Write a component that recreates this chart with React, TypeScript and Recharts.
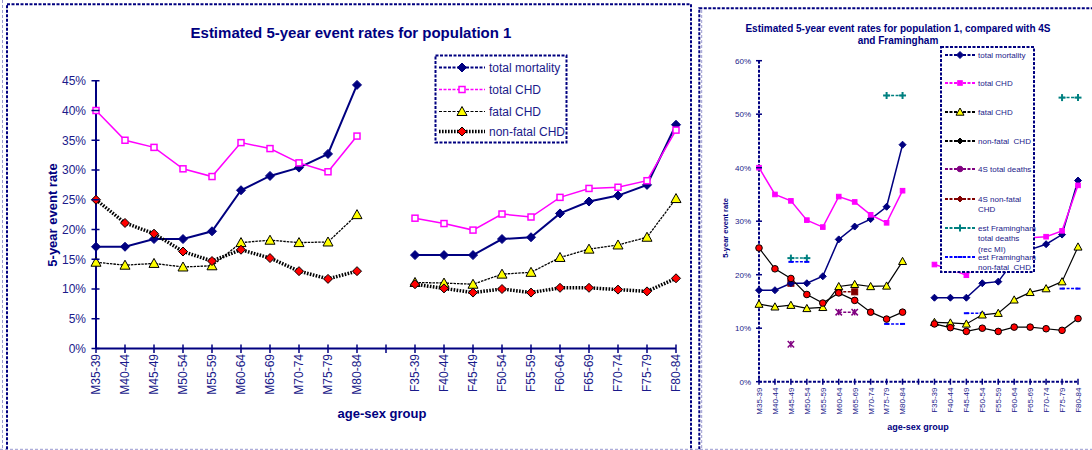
import React from 'react';
import { LineChart, Line, XAxis, YAxis } from 'recharts';

const FONT = '"Liberation Sans", Arial, Helvetica, sans-serif';
const NAVY = '#000080';
const TXT = '#1a1a8a';

// ---------------- data ----------------
const categories = [
  'M35-39', 'M40-44', 'M45-49', 'M50-54', 'M55-59', 'M60-64', 'M65-69', 'M70-74', 'M75-79', 'M80-84',
  '',
  'F35-39', 'F40-44', 'F45-49', 'F50-54', 'F55-59', 'F60-64', 'F65-69', 'F70-74', 'F75-79', 'F80-84',
];
const totalMortality = [17.1, 17.1, 18.4, 18.4, 19.7, 26.6, 29.0, 30.4, 32.7, 44.3, null, 15.7, 15.7, 15.7, 18.4, 18.7, 22.7, 24.7, 25.7, 27.5, 37.6];
const totalCHD = [40.0, 35.0, 33.8, 30.2, 28.9, 34.6, 33.6, 31.2, 29.7, 35.7, null, 21.9, 21.0, 19.9, 22.6, 22.1, 25.4, 26.9, 27.1, 28.2, 36.7];
const fatalCHD = [14.5, 14.0, 14.3, 13.7, 13.9, 17.8, 18.2, 17.8, 17.9, 22.5, null, 11.1, 11.0, 10.8, 12.5, 12.8, 15.3, 16.7, 17.4, 18.7, 25.2];
const nonFatalCHD = [25.0, 21.1, 19.3, 16.3, 14.7, 16.6, 15.2, 13.0, 11.7, 13.0, null, 10.8, 10.1, 9.4, 10.0, 9.4, 10.2, 10.2, 9.9, 9.6, 11.8];
const fourSTotalDeaths = [null, null, 7.0, null, null, 13.0, 13.0, null, null, null, null, null, null, null, null, null, null, null, null, null, null];
const fourSNonFatal = [null, null, 18.4, null, null, 16.8, 16.8, null, null, null, null, null, null, null, null, null, null, null, null, null, null];
const framTotalDeaths = [null, null, 23.1, 23.1, null, null, null, null, 53.5, 53.5, null, null, null, null, null, null, null, null, null, 53.1, 53.1];
const framNonFatal = [null, null, 22.4, 22.4, null, null, null, null, 10.8, 10.8, null, null, null, 12.8, 12.8, null, null, null, null, 17.4, 17.4];

const leftTicks = [0, 5, 10, 15, 20, 25, 30, 35, 40, 45];
const rightTicks = [0, 10, 20, 30, 40, 50, 60];

const rows = categories.map((cat, i) => ({
  cat,
  tm: totalMortality[i],
  tc: totalCHD[i],
  fc: fatalCHD[i],
  nf: nonFatalCHD[i],
  s4d: fourSTotalDeaths[i],
  s4n: fourSNonFatal[i],
  fmt: framTotalDeaths[i],
  fmn: framNonFatal[i],
}));

// ---------------- markers ----------------
type MarkerSpec = { shape: string; s: number; fill: string; stroke: string; sw?: number };

function Marker({ shape, x, y, s, fill, stroke, sw = 1 }: MarkerSpec & { x: number; y: number }) {
  switch (shape) {
    case 'diamond':
      return <polygon points={`${x},${y - s} ${x + s},${y} ${x},${y + s} ${x - s},${y}`} fill={fill} stroke={stroke} strokeWidth={sw} />;
    case 'square':
      return <rect x={x - s} y={y - s} width={2 * s} height={2 * s} fill={fill} stroke={stroke} strokeWidth={sw} />;
    case 'triangle':
      return <polygon points={`${x},${y - s} ${x + s},${y + s * 0.8} ${x - s},${y + s * 0.8}`} fill={fill} stroke={stroke} strokeWidth={sw} />;
    case 'circle':
      return <circle cx={x} cy={y} r={s} fill={fill} stroke={stroke} strokeWidth={sw} />;
    case 'star':
      return (
        <g stroke={stroke} strokeWidth={sw}>
          <line x1={x - s} y1={y - s} x2={x + s} y2={y + s} />
          <line x1={x - s} y1={y + s} x2={x + s} y2={y - s} />
          <line x1={x} y1={y - s} x2={x} y2={y + s} />
        </g>
      );
    case 'plus':
      return (
        <g stroke={stroke} strokeWidth={sw}>
          <line x1={x - s} y1={y} x2={x + s} y2={y} />
          <line x1={x} y1={y - s} x2={x} y2={y + s} />
        </g>
      );
    case 'dash':
      return <line x1={x - s} y1={y} x2={x + s} y2={y} stroke={stroke} strokeWidth={sw} />;
    default:
      return null;
  }
}

const dotRenderer = (m: MarkerSpec) => (props: any) => {
  const { cx, cy, index, value } = props;
  const key = `dot-${index}`;
  if (cx == null || cy == null || value == null || Number.isNaN(cx) || Number.isNaN(cy)) return <g key={key} />;
  return (
    <g key={key}>
      <Marker {...m} x={cx} y={cy} />
    </g>
  );
};

// ---------------- marker styles ----------------
const L = {
  tm: { shape: 'diamond', s: 4.5, fill: NAVY, stroke: NAVY, sw: 1 },
  tc: { shape: 'square', s: 3, fill: '#ffffff', stroke: '#FF00FF', sw: 1.5 },
  fc: { shape: 'triangle', s: 5, fill: '#FFFF00', stroke: '#000000', sw: 1 },
  nf: { shape: 'diamond', s: 4.5, fill: '#FF0000', stroke: '#000000', sw: 1 },
};
const R = {
  tm: { shape: 'diamond', s: 3.5, fill: NAVY, stroke: NAVY, sw: 1 },
  tc: { shape: 'square', s: 2.3, fill: '#FF00FF', stroke: '#FF00FF', sw: 1 },
  fc: { shape: 'triangle', s: 4, fill: '#FFFF00', stroke: '#000000', sw: 1 },
  nf: { shape: 'circle', s: 3.3, fill: '#FF0000', stroke: '#000000', sw: 1 },
  s4d: { shape: 'star', s: 3.2, fill: 'none', stroke: '#800080', sw: 1.5 },
  s4n: { shape: 'square', s: 3, fill: '#800000', stroke: '#800000', sw: 1 },
  fmt: { shape: 'plus', s: 3.5, fill: 'none', stroke: '#008080', sw: 2 },
  fmn: { shape: 'dash', s: 2.5, fill: 'none', stroke: '#0000FF', sw: 2 },
};

// ---------------- ticks ----------------
const L_AXIS_X = 96;
const L_AXIS_Y = 348.5;
const R_AXIS_X = 59;
const R_AXIS_Y = 381.7;

const makeXTick = (axisY: number, up: number, down: number, labelTop: number, fontSize: number) => (props: any) => {
  const { x, payload, index } = props;
  return (
    <g key={`xt-${index}`}>
      <line x1={x} x2={x} y1={axisY - up} y2={axisY + down} stroke={NAVY} strokeWidth={1.5} />
      {payload.value ? (
        <text
          transform={`translate(${x},${labelTop}) rotate(-90)`}
          textAnchor="end"
          dy="0.36em"
          fontSize={fontSize}
          fontFamily={FONT}
          fill={TXT}
        >
          {payload.value}
        </text>
      ) : null}
    </g>
  );
};

const makeYTick = (axisX: number, left: number, right: number, gap: number, fontSize: number) => (props: any) => {
  const { y, payload, index } = props;
  return (
    <g key={`yt-${index}`}>
      <line x1={axisX - left} x2={axisX + right} y1={y} y2={y} stroke={NAVY} strokeWidth={1.5} />
      <text x={axisX - gap} y={y} dy="0.36em" textAnchor="end" fontSize={fontSize} fontFamily={FONT} fill={TXT}>
        {`${payload.value}%`}
      </text>
    </g>
  );
};

// ---------------- legends ----------------
type LegendItem = { label: string[]; color: string; width: number; dash: string; marker: MarkerSpec };

const leftLegend: LegendItem[] = [
  { label: ['total mortality'], color: NAVY, width: 2, dash: '3 1.5', marker: L.tm },
  { label: ['total CHD'], color: '#FF00FF', width: 1.5, dash: '3 1.5', marker: L.tc },
  { label: ['fatal CHD'], color: '#000000', width: 1.2, dash: '3 1.5', marker: L.fc },
  { label: ['non-fatal CHD'], color: '#000000', width: 3.5, dash: '1.6 1.4', marker: L.nf },
];
const leftLegendY = [67.5, 89.5, 111.5, 131.5];

const rightLegend: LegendItem[] = [
  { label: ['total mortality'], color: NAVY, width: 1.8, dash: '3 1.5', marker: R.tm },
  { label: ['total CHD'], color: '#FF00FF', width: 1.8, dash: '3 1.5', marker: R.tc },
  { label: ['fatal CHD'], color: '#000000', width: 1.8, dash: '3 1.5', marker: R.fc },
  { label: ['non-fatal  CHD'], color: '#000000', width: 1.8, dash: '3 1.5', marker: { shape: 'diamond', s: 3, fill: '#000000', stroke: '#000000' } },
  { label: ['4S total deaths'], color: '#800080', width: 1.8, dash: '3 1.5', marker: { shape: 'circle', s: 2.8, fill: '#800080', stroke: '#800080' } },
  { label: ['4S non-fatal', 'CHD'], color: '#800000', width: 1.8, dash: '3 1.5', marker: { shape: 'diamond', s: 3, fill: '#800000', stroke: '#800000' } },
  { label: ['est Framingham', 'total deaths', '(rec MI)'], color: '#008080', width: 1.8, dash: '3 1.5', marker: R.fmt },
  { label: ['est Framingham', 'non-fatal  CHD'], color: '#0000FF', width: 1.8, dash: '3 1.5', marker: R.fmn },
];
const rightLegendY = [55, 83, 112, 141, 169, 199, 228, 257];

function Overlay() {
  return (
    <svg width={1092} height={450} style={{ position: 'absolute', left: 0, top: 0, pointerEvents: 'none' }}>
      {/* light outer dashed lines */}
      <line x1={0} x2={1092} y1={449.3} y2={449.3} stroke="#9a9ad0" strokeWidth={1} strokeDasharray="3 2" />
      <line x1={2.5} x2={2.5} y1={0} y2={450} stroke="#9a9ad0" strokeWidth={1} strokeDasharray="3 2" />
      <line x1={701.7} x2={701.7} y1={10} y2={450} stroke="#9a9ad0" strokeWidth={1} strokeDasharray="3 2" />
      {/* navy frames */}
      <rect x={7} y={4.3} width={684} height={470} fill="none" stroke={NAVY} strokeWidth={2} strokeDasharray="3 1.5" />
      <rect x={699.3} y={8.3} width={430} height={470} fill="none" stroke={NAVY} strokeWidth={2} strokeDasharray="3 1.5" />

      {/* left titles */}
      <text x={351} y={33} dy="0.36em" textAnchor="middle" fontFamily={FONT} fontWeight="bold" fontSize={15} fill={NAVY}>
        Estimated 5-year event rates for population 1
      </text>
      <text transform="translate(52,215) rotate(-90)" dy="0.36em" textAnchor="middle" fontFamily={FONT} fontWeight="bold" fontSize={13} fill={NAVY}>
        5-year event rate
      </text>
      <text x={382} y={413} dy="0.36em" textAnchor="middle" fontFamily={FONT} fontWeight="bold" fontSize={13} fill={NAVY}>
        age-sex group
      </text>

      {/* left legend */}
      <rect x={435.5} y={55.5} width={131} height={87} fill="#ffffff" stroke={NAVY} strokeWidth={2} strokeDasharray="3 1.5" />
      {leftLegend.map((it, i) => {
        const y = leftLegendY[i];
        return (
          <g key={`ll-${i}`}>
            <line x1={439} x2={485} y1={y} y2={y} stroke={it.color} strokeWidth={it.width} strokeDasharray={it.dash} />
            <Marker {...it.marker} x={462} y={y} />
            <text x={489} y={y} dy="0.36em" fontFamily={FONT} fontSize={12} fill={TXT}>
              {it.label[0]}
            </text>
          </g>
        );
      })}

      {/* right titles */}
      <text x={898} y={28.3} dy="0.36em" textAnchor="middle" fontFamily={FONT} fontWeight="bold" fontSize={10} fill={NAVY}>
        Estimated 5-year event rates for population 1, compared with 4S
      </text>
      <text x={898} y={40.7} dy="0.36em" textAnchor="middle" fontFamily={FONT} fontWeight="bold" fontSize={10} fill={NAVY}>
        and Framingham
      </text>
      <text transform="translate(725,228) rotate(-90)" dy="0.36em" textAnchor="middle" fontFamily={FONT} fontWeight="bold" fontSize={7.5} fill={NAVY}>
        5-year event rate
      </text>
      <text x={918} y={427} dy="0.36em" textAnchor="middle" fontFamily={FONT} fontWeight="bold" fontSize={9} fill={NAVY}>
        age-sex group
      </text>

      {/* right legend */}
      <rect x={941} y={47} width={93} height={225} fill="#ffffff" stroke={NAVY} strokeWidth={2} strokeDasharray="3 1.5" />
      {rightLegend.map((it, i) => {
        const y = rightLegendY[i];
        return (
          <g key={`rl-${i}`}>
            <line x1={945} x2={976} y1={y} y2={y} stroke={it.color} strokeWidth={it.width} strokeDasharray={it.dash} />
            <Marker {...it.marker} x={960} y={y} />
            {it.label.map((ln, j) => (
              <text
                key={j}
                x={978}
                y={y + j * 10.5}
                dy="0.36em"
                fontFamily={FONT}
                fontSize={8}
                fill={TXT}
                style={{ whiteSpace: 'pre' }}
              >
                {ln}
              </text>
            ))}
          </g>
        );
      })}
    </svg>
  );
}

export default function App() {
  return (
    <div style={{ position: 'relative', width: 1092, height: 450, overflow: 'hidden', background: '#ffffff' }}>
      <style>{'body{margin:0;}'}</style>

      {/* left chart */}
      <div style={{ position: 'absolute', left: 0, top: 0 }}>
        <LineChart width={700} height={450} data={rows} margin={{ top: 80.75, right: 24, bottom: 41.5, left: 36 }}>
          <XAxis
            dataKey="cat"
            type="category"
            scale="point"
            interval={0}
            height={60}
            padding={{ left: 0, right: 0 }}
            axisLine={{ stroke: NAVY, strokeWidth: 2 }}
            tickLine={false}
            tick={makeXTick(L_AXIS_Y, 4, 4.5, 354, 12)}
          />
          <YAxis
            type="number"
            domain={[0, 45]}
            ticks={leftTicks}
            interval={0}
            width={60}
            axisLine={{ stroke: NAVY, strokeWidth: 2 }}
            tickLine={false}
            tick={makeYTick(L_AXIS_X, 4.5, 3.5, 10, 12)}
          />
          <Line dataKey="tm" stroke={NAVY} strokeWidth={2} isAnimationActive={false} dot={dotRenderer(L.tm)} activeDot={false} />
          <Line dataKey="tc" stroke="#FF00FF" strokeWidth={1.5} isAnimationActive={false} dot={dotRenderer(L.tc)} activeDot={false} />
          <Line dataKey="fc" stroke="#000000" strokeWidth={1.3} strokeDasharray="2.5 1" isAnimationActive={false} dot={dotRenderer(L.fc)} activeDot={false} />
          <Line dataKey="nf" stroke="#000000" strokeWidth={3.5} strokeDasharray="1.6 1.4" isAnimationActive={false} dot={dotRenderer(L.nf)} activeDot={false} />
        </LineChart>
      </div>

      {/* right chart */}
      <div style={{ position: 'absolute', left: 700, top: 0 }}>
        <LineChart width={392} height={450} data={rows} margin={{ top: 60.7, right: 14, bottom: 28.3, left: 19 }}>
          <XAxis
            dataKey="cat"
            type="category"
            scale="point"
            interval={0}
            height={40}
            padding={{ left: 0, right: 0 }}
            axisLine={{ stroke: NAVY, strokeWidth: 2, strokeDasharray: '3 1.5' }}
            tickLine={false}
            tick={makeXTick(R_AXIS_Y, 3, 3, 387.5, 8)}
          />
          <YAxis
            type="number"
            domain={[0, 60]}
            ticks={rightTicks}
            interval={0}
            width={40}
            axisLine={{ stroke: NAVY, strokeWidth: 2, strokeDasharray: '3 1.5' }}
            tickLine={false}
            tick={makeYTick(R_AXIS_X, 3, 3, 8, 8)}
          />
          <Line dataKey="fmt" stroke="#008080" strokeWidth={1.5} strokeDasharray="3 1.5" isAnimationActive={false} dot={dotRenderer(R.fmt)} activeDot={false} />
          <Line dataKey="fmn" stroke="#0000FF" strokeWidth={1.5} strokeDasharray="3 1.5" isAnimationActive={false} dot={dotRenderer(R.fmn)} activeDot={false} />
          <Line dataKey="s4d" stroke="#800080" strokeWidth={1.5} strokeDasharray="3 1.5" isAnimationActive={false} dot={dotRenderer(R.s4d)} activeDot={false} />
          <Line dataKey="s4n" stroke="#800000" strokeWidth={1.5} strokeDasharray="3 1.5" isAnimationActive={false} dot={dotRenderer(R.s4n)} activeDot={false} />
          <Line dataKey="tm" stroke={NAVY} strokeWidth={1.5} isAnimationActive={false} dot={dotRenderer(R.tm)} activeDot={false} />
          <Line dataKey="tc" stroke="#FF00FF" strokeWidth={1.5} isAnimationActive={false} dot={dotRenderer(R.tc)} activeDot={false} />
          <Line dataKey="fc" stroke="#000000" strokeWidth={1.2} isAnimationActive={false} dot={dotRenderer(R.fc)} activeDot={false} />
          <Line dataKey="nf" stroke="#000000" strokeWidth={1.2} isAnimationActive={false} dot={dotRenderer(R.nf)} activeDot={false} />
        </LineChart>
      </div>

      <Overlay />
    </div>
  );
}
